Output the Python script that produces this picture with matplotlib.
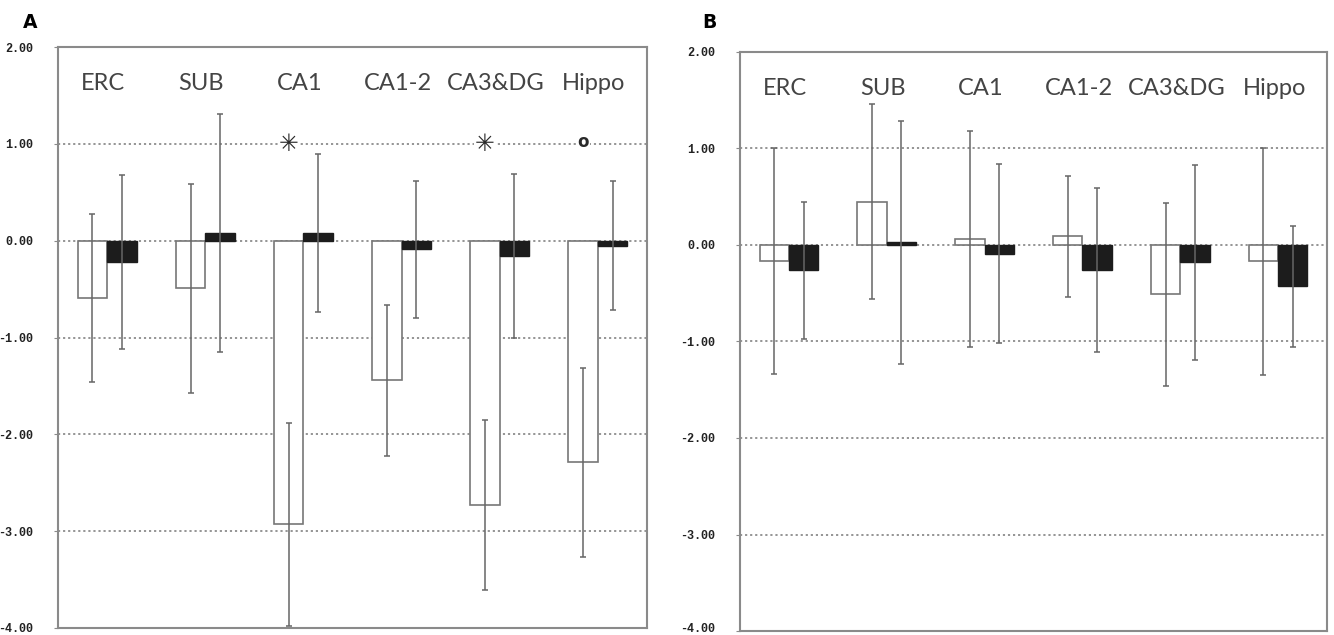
import matplotlib
matplotlib.use("Agg")
import matplotlib.pyplot as plt
import matplotlib.transforms as mtransforms
import numpy as np

categories = ["ERC", "SUB", "CA1", "CA1-2", "CA3&DG", "Hippo"]

# Panel A
a_white = [-0.59, -0.49, -2.93, -1.44, -2.73, -2.29]
a_white_err = [0.87, 1.08, 1.05, 0.78, 0.88, 0.98]
a_black = [-0.22, 0.08, 0.08, -0.09, -0.16, -0.05]
a_black_err = [0.90, 1.23, 0.82, 0.71, 0.85, 0.67]
a_marks = ["", "", "*", "", "*", "o"]

# Panel B
b_white = [-0.17, 0.45, 0.06, 0.09, -0.51, -0.17]
b_white_err = [1.17, 1.01, 1.12, 0.63, 0.95, 1.18]
b_black = [-0.26, 0.03, -0.09, -0.26, -0.18, -0.43]
b_black_err = [0.71, 1.26, 0.93, 0.85, 1.01, 0.63]

yticks = [2, 1, 0, -1, -2, -3, -4]
ytick_labels = ["2.00", "1.00", "0.00", "-1.00", "-2.00", "-3.00", "-4.00"]
grid_levels = [1, 0, -1, -2, -3]

W, H = 1334, 635
fig = plt.figure(figsize=(W / 100, H / 100), dpi=100)

def px_axes(x0, x1, ytop, ybot):
    return fig.add_axes([x0 / W, 1 - ybot / H, (x1 - x0) / W, (ybot - ytop) / H])

axA = px_axes(58, 647, 47, 628)
axB = px_axes(740, 1327, 52, 631)

frame_col = "#8a8a8a"
err_col = "#666666"
bw = 0.3

def draw_panel(ax, white, werr, black, berr, marks=None):
    x = np.arange(len(categories))
    ax.set_xlim(-0.5, len(categories) - 0.5)
    ax.set_ylim(-4, 2)
    for g in grid_levels:
        ax.axhline(g, color="#8c8c8c", lw=1.3, ls=(0, (1.2, 1.6)), zorder=1)
    ax.bar(x - bw / 2, white, width=bw, color="white", edgecolor="#777777",
           linewidth=1.2, zorder=2)
    ax.bar(x + bw / 2, black, width=bw, color="#1c1c1c", edgecolor="#1c1c1c",
           linewidth=1.0, zorder=2)
    ax.errorbar(x - bw / 2, white, yerr=werr, fmt="none", ecolor=err_col,
                elinewidth=1.1, capsize=2.5, capthick=1.1, zorder=3)
    ax.errorbar(x + bw / 2, black, yerr=berr, fmt="none", ecolor=err_col,
                elinewidth=1.1, capsize=2.5, capthick=1.1, zorder=3)
    for i, c in enumerate(categories):
        ax.text(i - 0.04, 1.62, c, ha="center", va="center", fontsize=17,
                family="Lato", color="#444444", zorder=4)
    if marks:
        for i, m in enumerate(marks):
            if m == "*":
                ax.text(i - bw / 2, 1.0, "\u2733", ha="center", va="center",
                        fontsize=17, family="DejaVu Sans", color="#2a2a2a", zorder=4,
                        bbox=dict(facecolor="white", edgecolor="none", pad=0.5))
            elif m == "o":
                ax.text(i - bw / 2, 1.02, "o", ha="center", va="center",
                        fontsize=12, fontweight="bold", family="DejaVu Sans",
                        color="#2a2a2a", zorder=4,
                        bbox=dict(facecolor="white", edgecolor="none", pad=0.5))
    ax.set_xticks([])
    ax.set_yticks(yticks)
    labels = ax.set_yticklabels(ytick_labels, family="Liberation Mono",
                                fontweight="bold", fontsize=8.5, color="#222222")
    ax.tick_params(axis="y", length=3, color=frame_col, pad=15)
    for s in ax.spines.values():
        s.set_color(frame_col)
        s.set_linewidth(1.5)
    return labels

draw_panel(axA, a_white, a_white_err, a_black, a_black_err, a_marks)
draw_panel(axB, b_white, b_white_err, b_black, b_black_err)

# keep the lowest tick label of panel B inside the figure
for lab in axB.get_yticklabels():
    if lab.get_text() == "-4.00":
        lab.set_transform(lab.get_transform() +
                          mtransforms.ScaledTranslation(0, 4 / 100, fig.dpi_scale_trans))

fig.text(23 / W, 1 - 28 / H, "A", fontsize=13.5, fontweight="bold",
         family="DejaVu Sans", va="baseline", ha="left")
fig.text(702 / W, 1 - 28 / H, "B", fontsize=13.5, fontweight="bold",
         family="DejaVu Sans", va="baseline", ha="left")

fig.savefig("out.png", dpi=100)
